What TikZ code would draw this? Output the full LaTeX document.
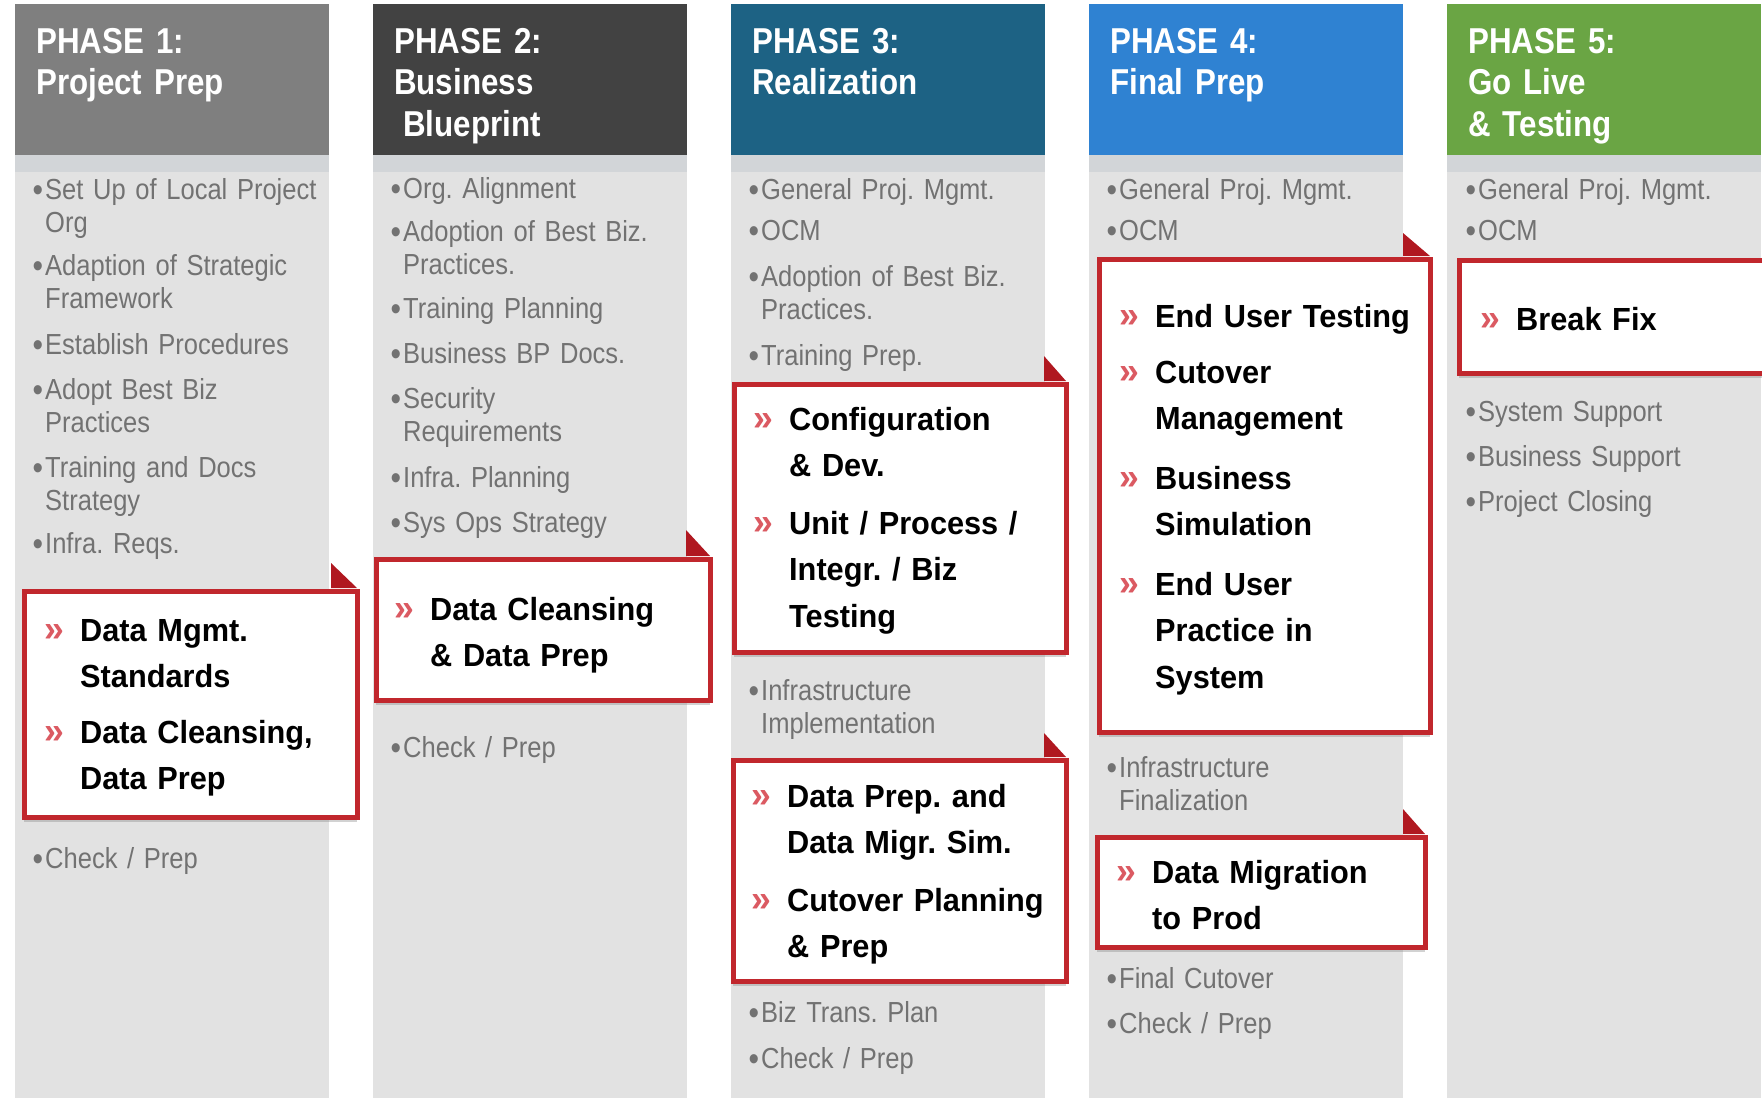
\documentclass[tikz,border=0pt]{standalone}
\usepackage{fontspec}
\setmainfont{Liberation Sans}
\newfontfamily\bodyf[FakeStretch=0.88]{Liberation Sans}
\newfontfamily\headf[FakeStretch=0.87]{Liberation Sans}
\newfontfamily\boxf[FakeStretch=0.96]{Liberation Sans}
\usetikzlibrary{shadows}
\frenchspacing
\definecolor{phA}{HTML}{7F7F7F}
\definecolor{phB}{HTML}{424242}
\definecolor{phC}{HTML}{1D6284}
\definecolor{phD}{HTML}{2F82D2}
\definecolor{phE}{HTML}{6AA544}
\definecolor{colgrey}{HTML}{E2E2E2}
\definecolor{stripgrey}{HTML}{D2D5D8}
\definecolor{bodytxt}{HTML}{727272}
\definecolor{boxred}{HTML}{C1272D}
\definecolor{trired}{HTML}{B01820}
\definecolor{chevred}{HTML}{DB5A62}
\tikzset{
  colbody/.style={fill=colgrey, draw=none},
  colstrip/.style={fill=stripgrey, draw=none},
  headbox/.style={anchor=north west, inner sep=0pt, outer sep=0pt, minimum width=314pt, minimum height=151pt, draw=none},
  headtext/.style={anchor=base west, inner sep=0pt, text width=285pt, align=left, text=white, font=\frenchspacing\headf\bfseries\fontsize{36}{41.5}\selectfont},
  itm/.style={anchor=base west, inner sep=0pt, text width=300pt, align=left, text=bodytxt, font=\frenchspacing\bodyf\fontsize{29}{33.5}\selectfont},
  redbox/.style={draw=boxred, line width=4.5pt, fill=white, inner sep=0pt, anchor=north west,
    drop shadow={opacity=0.35, shadow xshift=0pt, shadow yshift=-5pt}},
  foldtri/.style={fill=trired, draw=none},
  bitm/.style={anchor=base west, inner sep=0pt, text width=300pt, align=left, text=black, font=\frenchspacing\boxf\bfseries\fontsize{32}{46.5}\selectfont},
}
\newcommand\bul{\llap{\raisebox{-2.5pt}{\fontsize{34}{34}\selectfont\textbullet}\hspace{2pt}}}
\newcommand\chev{\llap{{\color{chevred}\fontsize{37}{37}\selectfont »}\hspace{16pt}}}
\begin{document}
\begin{tikzpicture}[x=1pt,y=-1pt]
\useasboundingbox (0,0) rectangle (1762,1098);
\clip (0,0) rectangle (1762,1098);
\fill[white] (0,0) rectangle (1762,1098);

% column bodies
\foreach \L in {15,373,731,1089,1447}{
  \fill[colbody] (\L,155) rectangle ++(314,943);
  \fill[colstrip] (\L,155) rectangle ++(314,17);
}

% headers
\node[headbox, fill=phA] (h1) at (15,4) {};
\node[headbox, fill=phB] (h2) at (373,4) {};
\node[headbox, fill=phC] (h3) at (731,4) {};
\node[headbox, fill=phD] (h4) at (1089,4) {};
\node[headbox, fill=phE] (h5) at (1447,4) {};
\node[headtext] (h1t) at (36,53) {PHASE 1:\\Project Prep};
\node[headtext] (h2t) at (394,53) {PHASE 2:\\Business\\\hspace*{9pt}Blueprint};
\node[headtext] (h3t) at (752,53) {PHASE 3:\\Realization};
\node[headtext] (h4t) at (1110,53) {PHASE 4:\\Final Prep};
\node[headtext] (h5t) at (1468,53) {PHASE 5:\\Go Live\\\& Testing};

% column 1 items
\node[itm] (c1a) at (45,199) {\bul Set Up of Local Project\\Org};
\node[itm] (c1b) at (45,275) {\bul Adaption of Strategic\\Framework};
\node[itm] (c1c) at (45,354) {\bul Establish Procedures};
\node[itm] (c1d) at (45,399) {\bul Adopt Best Biz\\Practices};
\node[itm] (c1e) at (45,477) {\bul Training and Docs\\Strategy};
\node[itm] (c1f) at (45,553) {\bul Infra. Reqs.};
\node[itm] (c1g) at (45,868) {\bul Check / Prep};

% column 2 items
\node[itm] (c2a) at (403,198) {\bul Org. Alignment};
\node[itm] (c2b) at (403,241) {\bul Adoption of Best Biz.\\Practices.};
\node[itm] (c2c) at (403,318) {\bul Training Planning};
\node[itm] (c2d) at (403,363) {\bul Business BP Docs.};
\node[itm] (c2e) at (403,408) {\bul Security\\Requirements};
\node[itm] (c2f) at (403,487) {\bul Infra. Planning};
\node[itm] (c2g) at (403,532) {\bul Sys Ops Strategy};
\node[itm] (c2h) at (403,757) {\bul Check / Prep};

% column 3 items
\node[itm] (c3a) at (761,199) {\bul General Proj. Mgmt.};
\node[itm] (c3b) at (761,240) {\bul OCM};
\node[itm] (c3c) at (761,286) {\bul Adoption of Best Biz.\\Practices.};
\node[itm] (c3d) at (761,365) {\bul Training Prep.};
\node[itm] (c3e) at (761,700) {\bul Infrastructure\\Implementation};
\node[itm] (c3f) at (761,1022) {\bul Biz Trans. Plan};
\node[itm] (c3g) at (761,1068) {\bul Check / Prep};

% column 4 items
\node[itm] (c4a) at (1119,199) {\bul General Proj. Mgmt.};
\node[itm] (c4b) at (1119,240) {\bul OCM};
\node[itm] (c4c) at (1119,777) {\bul Infrastructure\\Finalization};
\node[itm] (c4d) at (1119,988) {\bul Final Cutover};
\node[itm] (c4e) at (1119,1033) {\bul Check / Prep};

% column 5 items
\node[itm] (c5a) at (1478,199) {\bul General Proj. Mgmt.};
\node[itm] (c5b) at (1478,240) {\bul OCM};
\node[itm] (c5c) at (1478,421) {\bul System Support};
\node[itm] (c5d) at (1478,466) {\bul Business Support};
\node[itm] (c5e) at (1478,511) {\bul Project Closing};

% red boxes (fold triangle first, then box)
\fill[foldtri] (331,563) -- (331,588) -- (357,588) -- cycle;
\node[redbox, minimum width=333pt, minimum height=226pt] (b1) at (22,589) {};
\fill[foldtri] (686,530) -- (686,556) -- (710,556) -- cycle;
\node[redbox, minimum width=334pt, minimum height=141pt] (b2) at (374,557) {};
\fill[foldtri] (1044,356) -- (1044,381) -- (1066,381) -- cycle;
\node[redbox, minimum width=332pt, minimum height=268pt] (b3) at (732,382) {};
\fill[foldtri] (1044,733) -- (1044,757) -- (1066,757) -- cycle;
\node[redbox, minimum width=333pt, minimum height=221pt] (b4) at (731,758) {};
\fill[foldtri] (1403,233) -- (1403,256) -- (1430,256) -- cycle;
\node[redbox, minimum width=331pt, minimum height=473pt] (b5) at (1097,257) {};
\fill[foldtri] (1403,809) -- (1403,834) -- (1425,834) -- cycle;
\node[redbox, minimum width=328pt, minimum height=110pt] (b6) at (1095,835) {};
\node[redbox, minimum width=333pt, minimum height=113pt] (b7) at (1457,258) {};

% box texts
\node[bitm] (b1a) at (80,641) {\chev Data Mgmt.\\Standards};
\node[bitm] (b1b) at (80,743) {\chev Data Cleansing,\\Data Prep};
\node[bitm] (b2a) at (430,620) {\chev Data Cleansing\\\& Data Prep};
\node[bitm] (b3a) at (789,430) {\chev Configuration\\\& Dev.};
\node[bitm] (b3b) at (789,534) {\chev Unit / Process /\\Integr. / Biz\\Testing};
\node[bitm] (b4a) at (787,807) {\chev Data Prep. and\\Data Migr. Sim.};
\node[bitm] (b4b) at (787,911) {\chev Cutover Planning\\\& Prep};
\node[bitm] (b5a) at (1155,327) {\chev End User Testing};
\node[bitm] (b5b) at (1155,383) {\chev Cutover\\Management};
\node[bitm] (b5c) at (1155,489) {\chev Business\\Simulation};
\node[bitm] (b5d) at (1155,595) {\chev End User\\Practice in\\System};
\node[bitm] (b6a) at (1152,883) {\chev Data Migration\\to Prod};
\node[bitm] (b7a) at (1516,330) {\chev Break Fix};
\end{tikzpicture}
\end{document}
